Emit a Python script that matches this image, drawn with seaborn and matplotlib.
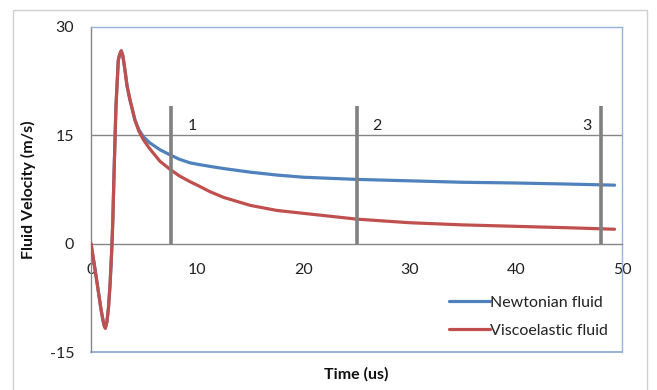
import numpy as np
import pandas as pd
import matplotlib
matplotlib.use("Agg")
import matplotlib.pyplot as plt
import seaborn as sns
from matplotlib.patches import Rectangle

# ---- data ----
time_early = [0, 0.3, 0.63, 0.9, 1.1, 1.25, 1.35, 1.5, 1.65, 1.8, 1.95, 2.05, 2.17, 2.35, 2.57,
              2.7, 2.85, 3.0, 3.2, 3.4, 3.67, 4.14]
velocity_early = [0, -2.8, -6.0, -8.7, -10.4, -11.4, -11.7, -10.8, -8.8, -5.5, -1.0, 3.0, 9.75, 19.0, 25.4,
                  26.2, 26.7, 26.0, 24.0, 21.8, 19.9, 17.1]
time_late = [4.5, 4.93, 5.5, 6.5, 7.44, 8.3, 9.3, 10, 11.2, 12.5, 15, 17.5, 20, 22.5, 25, 30, 35, 40, 45, 49.3]
newtonian_late = [15.8, 14.8, 14.0, 13.0, 12.3, 11.7, 11.2, 11.0, 10.7, 10.4, 9.9, 9.5, 9.2, 9.05, 8.9,
                  8.7, 8.5, 8.4, 8.25, 8.1]
visco_late = [15.6, 14.4, 13.2, 11.4, 10.3, 9.4, 8.6, 8.1, 7.2, 6.4, 5.3, 4.6, 4.2, 3.8, 3.4,
              2.9, 2.6, 2.4, 2.2, 2.0]
series_names = ["Newtonian fluid", "Viscoelastic fluid"]
marker_times = [7.5, 25, 48]
marker_labels = ["1", "2", "3"]
marker_height = 19
x_ticks = [0, 10, 20, 30, 40, 50]
y_ticks = [-15, 0, 15, 30]

rows = []
for name, late in zip(series_names, [newtonian_late, visco_late]):
    for t, v in zip(time_early + time_late, velocity_early + late):
        rows.append({"Time": t, "Velocity": v, "Series": name})
df = pd.DataFrame(rows)

sns.set_style("white")
plt.rcParams["font.family"] = ["Lato", "DejaVu Sans"]

BLUE = "#4F81BD"
RED = "#C0504D"
GRAY = "#868686"
FRAME = "#95B3D7"
FS = 11.5

fig = plt.figure(figsize=(6.57, 3.90), dpi=100)
ax = fig.add_axes([91 / 657, 1 - 352 / 390, (622 - 91) / 657, (352 - 27) / 390])

sns.lineplot(data=df, x="Time", y="Velocity", hue="Series", hue_order=series_names,
             palette=[BLUE, RED], sort=False, estimator=None, linewidth=2.3, ax=ax, zorder=3)
for ln in ax.get_lines():
    ln.set_solid_joinstyle("round")

ax.set_xlim(0, 50)
ax.set_ylim(-15, 30)
ax.set_xticks(x_ticks)
ax.set_yticks(y_ticks)
ax.set_xticklabels([str(v) for v in x_ticks])
ax.set_yticklabels([str(v) for v in y_ticks])

# spines
ax.spines["bottom"].set_position(("data", 0))
ax.spines["bottom"].set_color(GRAY)
ax.spines["left"].set_color(GRAY)
ax.spines["top"].set_color(FRAME)
ax.spines["right"].set_color(FRAME)
for s in ax.spines.values():
    s.set_linewidth(1.0)
ax.axhline(-15, color=FRAME, lw=1.4, clip_on=False, zorder=1)
ax.axhline(15, color=GRAY, lw=1.0, zorder=1)

ax.tick_params(axis="x", direction="out", length=4, width=1, color=GRAY, pad=10, labelsize=FS, labelcolor="#222222")
ax.tick_params(axis="y", direction="out", length=5, width=1, color=GRAY, pad=7, labelsize=FS, labelcolor="#222222")

# vertical markers
for t in marker_times:
    ax.plot([t, t], [0, marker_height], color="#808080", lw=2.6, zorder=4, solid_capstyle="butt")
for t, lab, dx in zip(marker_times, marker_labels, [2.0, 1.9, -1.3]):
    ax.text(t + dx, 16.3, lab, ha="center", va="center", fontsize=FS, color="#222222", zorder=5)

ax.set_xlabel("Time (us)", fontsize=FS, fontweight="bold", color="#111111")
ax.set_ylabel("Fluid Velocity (m/s)", fontsize=FS, fontweight="bold", color="#111111")
ax.xaxis.set_label_coords(0.5, -0.045)
ax.yaxis.set_label_coords(-0.103, 0.5)

leg = ax.legend(loc="lower right", bbox_to_anchor=(0.995, 0.01), frameon=False, fontsize=FS,
                handlelength=2.6, handletextpad=0.0, labelspacing=0.85, borderaxespad=0.3)
for line in leg.get_lines():
    line.set_linewidth(2.3)
for txt in leg.get_texts():
    txt.set_color("#222222")

# outer chart frame
fig.add_artist(Rectangle((13 / 657, -0.05), (647 - 13) / 657, 1.05 - 10 / 390,
                         transform=fig.transFigure, fill=False, edgecolor="#D0D0D0", lw=1.0))

fig.savefig("out.png", dpi=100)
